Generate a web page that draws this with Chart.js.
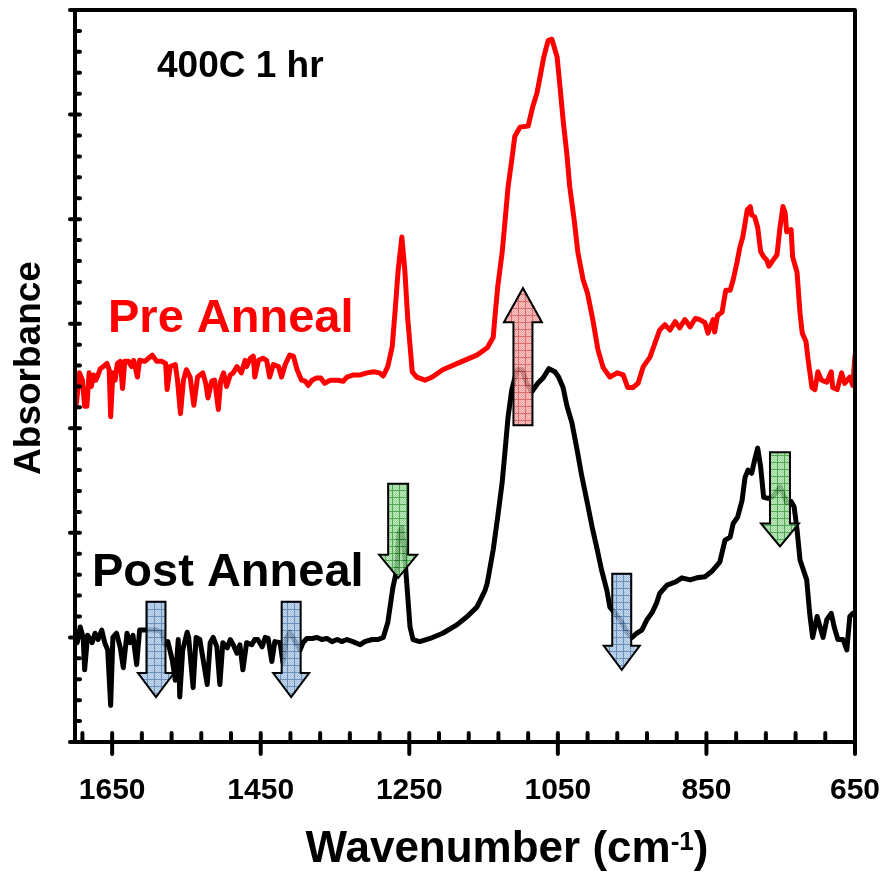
<!DOCTYPE html>
<html><head><meta charset="utf-8">
<script src="https://cdn.jsdelivr.net/npm/chart.js@4.4.1/dist/chart.umd.min.js"></script>
<style>html,body{margin:0;padding:0;background:#fff;overflow:hidden}</style>
</head><body>
<canvas id="c" width="882" height="878"></canvas>
<script>
// ---- data ----
const preWavenumber = [1698,1694,1690,1687,1684,1681,1678,1675,1672,1670,1666,1662,1657,1654,1652,1649,1646,1643,1639,1636,1633,1628,1624,1621,1616,1613,1606,1601,1596,1590,1583,1578,1576,1572,1565,1562,1558,1554,1550,1545,1540,1535,1528,1524,1521,1516,1512,1507,1504,1500,1496,1491,1487,1482,1476,1471,1469,1464,1460,1458,1453,1447,1442,1438,1433,1426,1422,1417,1411,1406,1401,1395,1390,1386,1381,1375,1369,1364,1359,1355,1346,1339,1334,1325,1316,1307,1298,1290,
1285,1279,1273,1269,1265,1260,1256,1252,1246,1240,1229,1219,1205,1182,1159,1145,1137,1135,1131,1125,1121,1117,1112,1108,1101,1090,1084,1078,1074,1069,1063,1058,1051,1047,1043,1038,1034,1028,1023,1016,1010,1003,996,989,980,970,962,956,949,942,935,926,913,906,899,892,886,879,872,865,859,852,848,841,839,835,829,824,818,814,809,805,801,795,791,789,785,781,777,773,769,766,760,755,751,747,744,742,736,734,728,724,721,716,713,708,704,700,695,688,682,680,674,668,664,657,653,650];
const preAbsorbance = [3.24,3.53,3.46,3.21,3.21,3.53,3.40,3.51,3.46,3.49,3.57,3.59,3.62,3.56,3.11,3.53,3.46,3.62,3.64,3.38,3.64,3.64,3.59,3.65,3.49,3.65,3.64,3.67,3.70,3.64,3.64,3.62,3.37,3.59,3.61,3.46,3.14,3.46,3.56,3.49,3.22,3.49,3.53,3.43,3.29,3.45,3.46,3.18,3.45,3.53,3.40,3.51,3.53,3.59,3.53,3.65,3.59,3.67,3.69,3.49,3.65,3.67,3.65,3.49,3.61,3.59,3.49,3.61,3.70,3.69,3.56,3.46,3.45,3.41,3.46,3.48,3.48,3.43,3.45,3.46,3.46,3.45,3.49,3.51,3.51,3.53,3.54,3.53,
3.50,3.59,3.78,4.13,4.51,4.83,4.51,4.04,3.54,3.49,3.46,3.49,3.56,3.63,3.70,3.77,3.87,4.04,4.35,4.68,4.99,5.31,5.57,5.79,5.88,5.89,6.07,6.21,6.36,6.55,6.71,6.72,6.55,6.26,5.95,5.63,5.31,4.99,4.68,4.42,4.29,4.04,3.75,3.58,3.49,3.53,3.51,3.39,3.39,3.43,3.59,3.68,3.94,3.99,3.94,4.02,3.96,4.04,3.97,4.05,4.04,4.01,3.91,4.04,3.92,4.08,4.11,4.32,4.32,4.42,4.58,4.73,4.83,5.09,5.12,5.04,5.02,4.92,4.69,4.64,4.61,4.55,4.61,4.66,4.92,5.12,5.06,4.88,4.90,4.64,4.49,4.10,3.91,3.83,3.65,3.39,3.37,3.54,3.46,3.44,3.54,3.39,3.37,3.53,3.43,3.49,3.41,3.70];

const postWavenumber = [1697,1693,1689,1687,1683,1677,1673,1669,1664,1660,1656,1652,1649,1644,1639,1635,1630,1626,1622,1617,1613,1606,1599,1590,1583,1579,1575,1569,1565,1561,1559,1555,1549,1547,1541,1537,1532,1528,1522,1518,1514,1509,1505,1501,1495,1491,1487,1482,1478,1474,1469,1462,1458,1454,1448,1444,1440,1435,1431,1424,1420,1415,1411,1407,1401,1397,1393,1388,1381,1374,1368,1361,1354,1347,1341,1334,1326,1316,1310,1300,1292,1285,1279,1272,1267,1264,1260,1257,1253,1249,1245,1236,1222,1205,1186,1172,1159,1148,1145,1137,1131,1125,1121,1117,1112,1105,1098,1092,1085,1077,1070,1062,1054,1049,1043,1038,1031,1024,1018,1011,1004,997,991,984,980,973,966,957,950,944,937,930,923,917,913,903,892,883,872,863,852,843,832,825,818,814,808,802,798,794,789,785,781,777,773,767,762,756,751,747,742,736,732,728,724,715,711,707,701,697,693,688,682,678,673,666,661,657,653];
const postAbsorbance = [0.95,1.10,1.00,0.69,1.02,0.95,1.04,0.98,1.07,0.95,0.88,0.35,1.00,1.04,0.90,0.71,1.04,0.95,1.02,0.74,1.07,1.07,1.07,1.07,1.05,0.93,0.96,0.78,0.59,0.98,0.43,0.88,1.05,1.00,0.52,1.00,0.98,0.81,0.55,0.95,1.00,0.91,0.55,0.95,0.90,0.98,0.93,0.85,0.93,0.69,0.95,0.93,0.98,0.98,0.91,1.00,0.99,0.77,0.96,0.95,0.76,1.00,1.05,1.00,0.93,0.88,0.95,0.99,0.99,1.00,0.98,0.99,0.96,0.98,0.96,0.98,0.96,0.93,0.96,0.98,0.98,1.00,1.14,1.48,1.64,2.00,2.05,1.86,1.48,1.10,0.98,0.96,0.99,1.04,1.12,1.20,1.29,1.45,1.52,1.84,2.15,2.48,2.79,3.11,3.37,3.56,3.56,3.43,3.35,3.43,3.48,3.57,3.54,3.49,3.39,3.22,3.05,2.79,2.55,2.31,2.06,1.84,1.64,1.45,1.29,1.23,1.17,1.05,1.00,1.04,1.07,1.17,1.24,1.33,1.42,1.50,1.53,1.57,1.55,1.57,1.58,1.63,1.72,1.93,1.96,2.09,2.15,2.31,2.53,2.60,2.57,2.70,2.81,2.63,2.34,2.33,2.34,2.39,2.44,2.38,2.29,2.30,2.25,2.03,1.74,1.55,1.23,1.00,1.20,1.10,1.00,1.17,1.23,1.10,0.98,0.98,0.88,1.20,1.23];

const xTickLabels = [1650, 1450, 1250, 1050, 850, 650];

// block-arrow annotations (wavenumber, tail value, tip value, kind)
const arrowWavenumber = [1591, 1409, 1265, 964, 1097, 751];
const arrowTail = [1.34, 1.34, 2.47, 1.61, 3.03, 2.77];
const arrowTip = [0.43, 0.43, 1.57, 0.69, 4.34, 1.87];
const arrowKind = ['blue', 'blue', 'green', 'blue', 'red', 'green'];

// ---- styles ----
const FONT = '"Liberation Sans", Arial, Helvetica, sans-serif';
const arrowStyles = {
  blue:  {base:'#8fb1d8', dot:'#bcd2ea', line:'#4a78ad', shaft:19, headW:36, head:24},
  green: {base:'#7ccd7c', dot:'#b9e6b9', line:'#2e932e', shaft:20, headW:38, head:23},
  red:   {base:'#ef8686', dot:'#f8c0c0', line:'#d44c4c', shaft:19, headW:38, head:34}
};
function makePattern(ctx, st) {
  const t = document.createElement('canvas'); t.width = 7; t.height = 7;
  const g = t.getContext('2d');
  g.fillStyle = st.base; g.fillRect(0,0,7,7);
  g.fillStyle = st.dot;
  for (let i=0;i<7;i++) for (let j=0;j<7;j++) if ((i+j)%2===0 && i>0 && j>0) g.fillRect(i,j,1,1);
  g.fillStyle = st.line; g.fillRect(0,0,7,1); g.fillRect(0,0,1,7);
  return ctx.createPattern(t, 'repeat');
}

const decor = {
  id: 'decor',
  afterDatasetsDraw(chart) {
    const ctx = chart.ctx, xs = chart.scales.x, ys = chart.scales.y;
    ctx.save();
    for (let i=0;i<arrowWavenumber.length;i++) {
      const st = arrowStyles[arrowKind[i]];
      const x = xs.getPixelForValue(arrowWavenumber[i]);
      const yT = ys.getPixelForValue(arrowTail[i]);
      const yP = ys.getPixelForValue(arrowTip[i]);
      const dir = yP > yT ? 1 : -1;
      const hb = yP - dir*st.head;
      ctx.beginPath();
      ctx.moveTo(x - st.shaft/2, yT);
      ctx.lineTo(x + st.shaft/2, yT);
      ctx.lineTo(x + st.shaft/2, hb);
      ctx.lineTo(x + st.headW/2, hb);
      ctx.lineTo(x, yP);
      ctx.lineTo(x - st.headW/2, hb);
      ctx.lineTo(x - st.shaft/2, hb);
      ctx.closePath();
      ctx.save();
      ctx.globalAlpha = 0.82;
      ctx.fillStyle = makePattern(ctx, st);
      ctx.fill();
      ctx.restore();
      ctx.lineWidth = 2; ctx.strokeStyle = '#000'; ctx.lineJoin = 'miter';
      ctx.stroke();
    }
    ctx.restore();
  },
  afterDraw(chart) {
    const ctx = chart.ctx, a = chart.chartArea, xs = chart.scales.x, ys = chart.scales.y;
    ctx.save();
    // frame
    ctx.strokeStyle = '#000'; ctx.lineWidth = 4; ctx.lineJoin = 'round';
    ctx.strokeRect(a.left, a.top, a.right - a.left, a.bottom - a.top);
    // ticks
    ctx.lineCap = 'round'; ctx.lineWidth = 4;
    xs.ticks.forEach(t => {
      const x = xs.getPixelForValue(t.value);
      const major = xTickLabels.includes(t.value);
      ctx.beginPath();
      ctx.moveTo(x, a.bottom - 9);
      ctx.lineTo(x, major ? a.bottom + 12 : a.bottom);
      ctx.stroke();
    });
    ys.ticks.forEach((t, i) => {
      const y = ys.getPixelForValue(t.value);
      const major = i % 5 === 0;
      ctx.beginPath();
      ctx.moveTo(major ? a.left - 5 : a.left, y);
      ctx.lineTo(a.left + 5, y);
      ctx.stroke();
    });
    // texts
    ctx.fillStyle = '#000';
    ctx.textBaseline = 'alphabetic';
    ctx.textAlign = 'left';
    ctx.font = 'bold 37px ' + FONT;
    ctx.fillText('400C 1 hr', 157, 77);
    ctx.font = 'bold 47px ' + FONT;
    ctx.fillStyle = '#ff0000';
    ctx.fillText('Pre Anneal', 108, 332);
    ctx.fillStyle = '#000';
    ctx.fillText('Post Anneal', 92, 586);
    // x title with superscript
    const main = 'Wavenumber (cm', sup = '-1', close = ')';
    ctx.font = 'bold 44px ' + FONT;
    const wm = ctx.measureText(main).width, wc = ctx.measureText(close).width;
    ctx.font = 'bold 26px ' + FONT;
    const ws = ctx.measureText(sup).width;
    let x0 = 507 - (wm + ws + wc) / 2;
    ctx.font = 'bold 44px ' + FONT;
    ctx.fillText(main, x0, 862);
    ctx.font = 'bold 26px ' + FONT;
    ctx.fillText(sup, x0 + wm, 850);
    ctx.font = 'bold 44px ' + FONT;
    ctx.fillText(close, x0 + wm + ws, 862);
    // y title
    ctx.save();
    ctx.translate(40, 368);
    ctx.rotate(-Math.PI/2);
    ctx.textAlign = 'center';
    ctx.font = 'bold 37px ' + FONT;
    ctx.fillText('Absorbance', 0, 0);
    ctx.restore();
    ctx.restore();
  }
};

new Chart(document.getElementById('c').getContext('2d'), {
  type: 'line',
  data: {
    datasets: [
      {label:'Pre Anneal', data: preWavenumber.map((x,i)=>({x, y: preAbsorbance[i]})),
       borderColor:'#ff0000', borderWidth:5, pointRadius:0, tension:0,
       borderJoinStyle:'round', borderCapStyle:'round'},
      {label:'Post Anneal', data: postWavenumber.map((x,i)=>({x, y: postAbsorbance[i]})),
       borderColor:'#000000', borderWidth:5, pointRadius:0, tension:0,
       borderJoinStyle:'round', borderCapStyle:'round'}
    ]
  },
  options: {
    responsive: false, animation: false, devicePixelRatio: 1,
    layout: {padding: {top: 10, right: 27, left: 0, bottom: 0}},
    plugins: {legend: {display: false}, tooltip: {enabled: false}},
    scales: {
      x: {
        type: 'linear', reverse: true, min: 650, max: 1700,
        grid: {display: false, drawTicks: false}, border: {display: false},
        afterBuildTicks(s) { const t = []; for (let v = 650; v <= 1700; v += 40) t.push({value: v}); s.ticks = t; },
        ticks: {autoSkip: false, maxRotation: 0, minRotation: 0, padding: 31, color: '#000',
                font: {family: FONT, size: 30, weight: 'bold'},
                callback: v => xTickLabels.includes(v) ? String(v) : ''},
        afterFit(s) { s.height = 136; }
      },
      y: {
        min: 0, max: 7,
        grid: {display: false, drawTicks: false}, border: {display: false},
        ticks: {display: false},
        afterBuildTicks(s) { const t = []; for (let i = 0; i <= 35; i++) t.push({value: i * 0.2}); s.ticks = t; },
        afterFit(s) { s.width = 75; }
      }
    }
  },
  plugins: [decor]
});
</script>
</body></html>
